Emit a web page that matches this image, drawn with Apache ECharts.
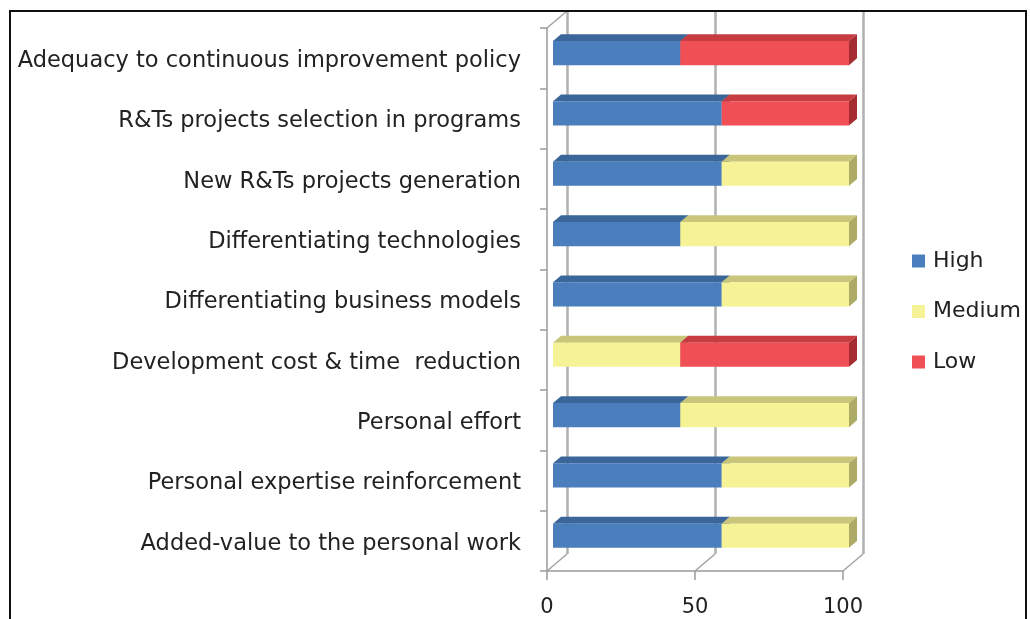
<!DOCTYPE html>
<html>
<head>
<meta charset="utf-8">
<script src="https://cdn.jsdelivr.net/npm/echarts@6/dist/echarts.min.js"></script>
<style>
  html, body { margin: 0; padding: 0; background: #fff; }
  #wrap { position: relative; width: 1030px; height: 619px; overflow: hidden; }
  #chart { position: absolute; left: 0; top: 0; width: 1025px; height: 619px; }
  #frame { position: absolute; left: 9px; top: 10px; width: 1014px; height: 640px;
           border: 2px solid #111; border-bottom: none; pointer-events: none; }
</style>
</head>
<body>
<div id="wrap"><div id="chart"></div><div id="frame"></div></div>
<script>
// Survey items, top to bottom
const categories = [
  'Adequacy to continuous improvement policy',
  'R&Ts projects selection in programs',
  'New R&Ts projects generation',
  'Differentiating technologies',
  'Differentiating business models',
  'Development cost & time  reduction',
  'Personal effort',
  'Personal expertise reinforcement',
  'Added-value to the personal work'
];
const seriesNames = ['High', 'Medium', 'Low'];
const high   = [43, 57, 57, 43, 57, 0, 43, 57, 57];
const medium = [0, 0, 43, 57, 43, 43, 57, 43, 43];
const low    = [57, 43, 0, 0, 0, 57, 0, 0, 0];
const xTicks = [0, 50, 100];

// Face shades for the 3D boxes
const palette = {
  High:   { front: '#4A7EBD', top: '#3A6699', side: '#2F5583' },
  Medium: { front: '#F6F396', top: '#C9C67C', side: '#ADAA66' },
  Low:    { front: '#EF4F55', top: '#C63C40', side: '#A52D31' }
};

// Wall depth (back plane offset) and the depth slab the bars occupy
const DEPTH = [20, -17];
const T0 = 0.3, T1 = 0.7;
const FONT = '"DejaVu Sans", "Open Sans", sans-serif';

const values = [high, medium, low];

// Stacked start/end per segment
function stackedData(k) {
  return categories.map((c, i) => {
    let s = 0;
    for (let j = 0; j < k; j++) s += values[j][i];
    return [s, s + values[k][i], i];
  });
}

function boxRenderer(col) {
  return function (params, api) {
    const s = api.value(0), e = api.value(1), c = api.value(2);
    if (e - s <= 0) return;
    const p0 = api.coord([s, c]);
    const p1 = api.coord([e, c]);
    const h = api.size([0, 1])[1] * 0.4;
    const ox = DEPTH[0] * T0, oy = DEPTH[1] * T0;
    const dx = DEPTH[0] * (T1 - T0), dy = DEPTH[1] * (T1 - T0);
    const x0 = p0[0] + ox, x1 = p1[0] + ox, yc = p0[1] + oy;
    const yT = yc - h / 2, yB = yc + h / 2;
    return {
      type: 'group',
      children: [
        { type: 'polygon', shape: { points: [[x0, yT], [x1, yT], [x1 + dx, yT + dy], [x0 + dx, yT + dy]] },
          style: { fill: col.top } },
        { type: 'polygon', shape: { points: [[x1, yT], [x1 + dx, yT + dy], [x1 + dx, yB + dy], [x1, yB]] },
          style: { fill: col.side } },
        { type: 'rect', shape: { x: x0, y: yT, width: x1 - x0, height: h },
          style: { fill: col.front } }
      ]
    };
  };
}

// Floor and side-wall edges joining the front and back planes
function wallEdges(params, api) {
  const cs = params.coordSys;
  const v = api.value(0);
  const x = api.coord([v, 0])[0];
  const yFloor = cs.y + cs.height;
  const line = { stroke: '#A3A3A3', lineWidth: 1.5 };
  const kids = [
    { type: 'line', shape: { x1: x, y1: yFloor, x2: x + DEPTH[0], y2: yFloor + DEPTH[1] }, style: line }
  ];
  if (v === xTicks[0]) {
    kids.push({ type: 'line', shape: { x1: x, y1: cs.y, x2: x + DEPTH[0], y2: cs.y + DEPTH[1] }, style: line });
  }
  return { type: 'group', children: kids };
}

const G = { left: 547, top: 28, width: 296, height: 543 };

const chart = echarts.init(document.getElementById('chart'), null, { renderer: 'canvas' });
chart.setOption({
  animation: false,
  backgroundColor: '#fff',
  textStyle: { fontFamily: FONT },
  grid: [
    { left: G.left, top: G.top, width: G.width, height: G.height },
    { left: G.left + DEPTH[0], top: G.top + DEPTH[1], width: G.width, height: G.height }
  ],
  xAxis: [
    {
      gridIndex: 0, type: 'value', min: 0, max: 100, interval: 50,
      axisLine: { show: true, lineStyle: { color: '#9A9A9A', width: 1.5 } },
      axisTick: { show: true, length: 9, lineStyle: { color: '#9A9A9A', width: 1.5 } },
      splitLine: { show: false },
      axisLabel: { fontSize: 21, color: '#222', margin: 26, fontFamily: FONT,
                   formatter: v => xTicks.indexOf(v) >= 0 ? String(v) : '' }
    },
    {
      gridIndex: 1, type: 'value', min: 0, max: 100, interval: 50,
      axisLine: { show: false }, axisTick: { show: false }, axisLabel: { show: false },
      splitLine: { show: true, lineStyle: { color: '#B0B0B0', width: 2.5 } }
    }
  ],
  yAxis: [
    {
      gridIndex: 0, type: 'category', data: categories, inverse: true,
      axisLine: { show: true, lineStyle: { color: '#9A9A9A', width: 1.5 } },
      axisTick: { show: true, length: 7, lineStyle: { color: '#9A9A9A', width: 1.5 } },
      splitLine: { show: false },
      axisLabel: {
        margin: 26,
        formatter: v => '{c|' + v + '}',
        rich: { c: { fontSize: 22.5, color: '#222', fontFamily: FONT, padding: [6, 0, 0, 0] } }
      }
    },
    {
      gridIndex: 1, type: 'category', data: categories, inverse: true, show: false
    }
  ],
  legend: {
    orient: 'vertical', left: 912, top: 250, padding: 0,
    itemWidth: 13, itemHeight: 13, itemGap: 28.5,
    icon: 'rect',
    data: seriesNames,
    textStyle: { fontSize: 22, color: '#222', lineHeight: 22, fontFamily: FONT, padding: [0, 0, 0, 3] }
  },
  series: [
    {
      name: 'walls', type: 'custom', xAxisIndex: 0, yAxisIndex: 0, silent: true, z: 1,
      data: xTicks.map(v => [v, 0]), renderItem: wallEdges, encode: { x: 0 }
    }
  ].concat(seriesNames.map((n, k) => ({
    name: n, type: 'custom', xAxisIndex: 0, yAxisIndex: 0, silent: true, z: 3 + k,
    itemStyle: { color: palette[n].front },
    data: stackedData(k),
    encode: { x: [0, 1], y: 2 },
    renderItem: boxRenderer(palette[n])
  })))
});
</script>
</body>
</html>
